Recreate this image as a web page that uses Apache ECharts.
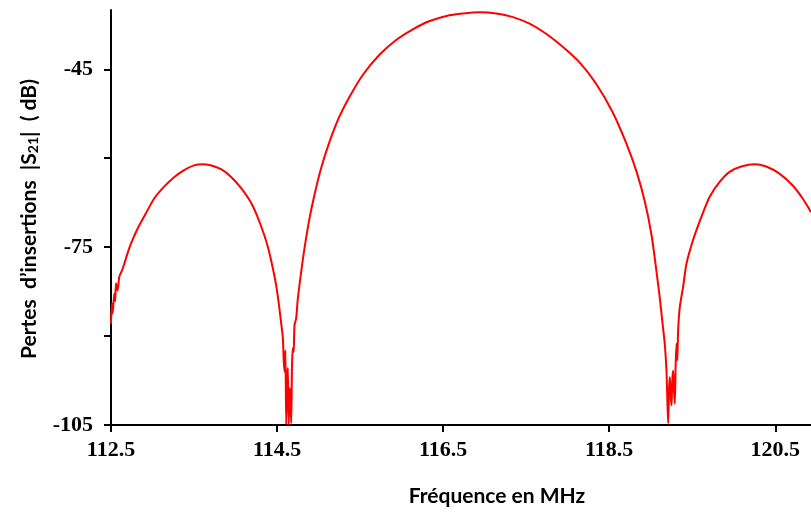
<!DOCTYPE html>
<html>
<head>
<meta charset="utf-8">
<script src="https://cdn.jsdelivr.net/npm/echarts@6/dist/echarts.min.js"></script>
<style>
html,body{margin:0;padding:0;background:#fff;}
#chart{width:811px;height:513px;}
</style>
</head>
<body>
<div id="chart"></div>
<script>
// Frequency (MHz) and insertion loss |S21| (dB)
const freqMHz = [
  112.50, 112.51, 112.52, 112.54, 112.55, 112.56, 112.58, 112.60, 112.63, 112.66, 112.70, 112.74, 112.82, 112.92,
  113.02, 113.14, 113.26, 113.38, 113.50, 113.60, 113.70, 113.83, 113.95, 114.07, 114.19, 114.29,
  114.39, 114.47, 114.51, 114.55, 114.57, 114.58, 114.59, 114.60, 114.61, 114.62, 114.63, 114.64,
  114.65, 114.66, 114.67, 114.68, 114.69, 114.70, 114.71, 114.73, 114.75, 114.79, 114.83, 114.89,
  114.95, 115.03, 115.13, 115.25, 115.37, 115.53, 115.73, 115.93, 116.13, 116.33, 116.54, 116.74,
  116.94, 117.14, 117.34, 117.54, 117.74, 117.94, 118.14, 118.34, 118.54, 118.70, 118.83, 118.93,
  119.01, 119.07, 119.11, 119.14, 119.17, 119.19, 119.20, 119.21, 119.22, 119.23, 119.24, 119.25,
  119.26, 119.27, 119.28, 119.29, 119.30, 119.31, 119.32, 119.33, 119.35, 119.39, 119.43, 119.51,
  119.61, 119.71, 119.83, 119.95, 120.09, 120.25, 120.39, 120.55, 120.71, 120.83, 120.93
];
const s21dB = [
  -87.9, -84.5, -86.2, -82.8, -84.1, -81.1, -82.3, -80.0, -79.0, -77.8, -76.0, -74.4, -71.9, -69.3,
  -66.8, -64.8, -63.2, -62.0, -61.2, -61.0, -61.2, -61.9, -63.2, -65.1, -67.6, -70.8,
  -75.0, -80.0, -83.4, -87.9, -90.4, -94.1, -96.0, -92.4, -104.9, -97.4, -95.4, -104.9,
  -98.8, -100.0, -104.7, -94.9, -92.0, -92.7, -88.2, -87.0, -83.7, -79.2, -75.2, -70.2,
  -66.2, -61.7, -57.3, -53.0, -49.7, -46.0, -42.6, -40.1, -38.3, -36.9, -36.0, -35.6,
  -35.4, -35.6, -36.2, -37.3, -39.0, -41.2, -43.8, -47.4, -52.2, -57.3, -62.3, -67.4,
  -73.0, -79.2, -83.7, -87.6, -91.5, -96.0, -100.8, -104.7, -99.1, -96.9, -100.0, -101.7,
  -97.4, -95.8, -99.1, -101.4, -94.9, -91.3, -94.1, -89.0, -85.1, -81.7, -77.8, -73.8,
  -69.9, -66.5, -64.0, -62.3, -61.4, -61.0, -61.4, -62.6, -64.6, -66.8, -69.1
];
const xTicks = [112.5, 114.5, 116.5, 118.5, 120.5];
const yTicks = [-105, -90, -75, -60, -45];
const yLabels = [-105, -75, -45];
const xTitle = 'Fréquence en MHz';

const points = freqMHz.map((f, i) => [f, s21dB[i]]);

const chart = echarts.init(document.getElementById('chart'), null, {renderer: 'canvas'});
const serifBold = {fontFamily: 'Liberation Serif', fontWeight: 'bold', fontSize: 22, color: '#000'};
chart.setOption({
  animation: false,
  backgroundColor: '#fff',
  grid: {left: 111, right: 0, top: 10, bottom: 88, containLabel: false},
  xAxis: {
    type: 'value', min: 112.5, max: 120.93,
    axisLine: {lineStyle: {color: '#000', width: 2}},
    axisTick: {show: true, length: 7, lineStyle: {color: '#000', width: 2}, customValues: xTicks},
    axisLabel: Object.assign({margin: 14, customValues: xTicks, formatter: v => v.toFixed(1)}, serifBold),
    splitLine: {show: false}
  },
  yAxis: {
    type: 'value', min: -105, max: -35,
    axisLine: {show: true, lineStyle: {color: '#000', width: 2}},
    axisTick: {show: true, length: 7, lineStyle: {color: '#000', width: 2}, customValues: yTicks},
    axisLabel: Object.assign({margin: 18, customValues: yLabels}, serifBold),
    splitLine: {show: false}
  },
  series: [{
    type: 'line', data: points, symbol: 'none', smooth: 0.25,
    lineStyle: {color: '#ff0000', width: 2}, clip: true
  }],
  graphic: [
    {
      type: 'text', x: 497, y: 496,
      style: {text: xTitle, fontFamily: 'Lato', fontWeight: 'bold', fontSize: 21, fill: '#000', align: 'center', verticalAlign: 'middle'}
    },
    {
      type: 'text', x: 29, y: 219, rotation: Math.PI / 2,
      style: {
        text: 'Pertes  d’insertions  |S{sub|21}|  ( dB)',
        fontFamily: 'Lato', fontWeight: 'bold', fontSize: 21, fill: '#000', align: 'center', verticalAlign: 'middle',
        rich: {
          sub: {fontFamily: 'Lato', fontWeight: 'bold', fontSize: 14, fill: '#000', verticalAlign: 'bottom', padding: [8, 0, 0, 0]}
        }
      }
    }
  ]
});
</script>
</body>
</html>
